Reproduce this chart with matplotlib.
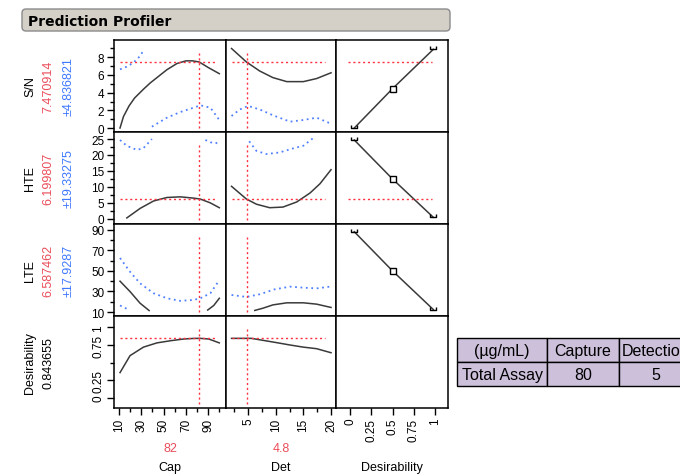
import numpy as np
import matplotlib
matplotlib.use('Agg')
import matplotlib.pyplot as plt
from matplotlib.patches import FancyBboxPatch, Rectangle
from matplotlib.path import Path

plt.rcParams['font.family'] = ['Liberation Sans', 'DejaVu Sans']

# ---- data read from the profiler ----
responses = ['S/N', 'HTE', 'LTE', 'Desirability']
pred_text = ['7.470914', '6.199807', '6.587462', '0.843655']
ci_text = ['±4.836821', '±19.33275', '±17.9287', '']
pred_vals = [7.470914, 6.199807, None, 0.843655]   # LTE line sits on the frame
cap_now, det_now = 82, 4.8

# S/N
cap_sn = [10.9, 14, 19, 24, 32, 38, 44, 53, 62, 70, 76, 82, 90, 100]
sn_cap = [0.0, 1.3, 2.5, 3.4, 4.4, 5.1, 5.7, 6.6, 7.3, 7.6, 7.6, 7.47, 6.85, 6.15]
cap_sn_hi = [10.9, 16.9, 22.9, 28.9, 32.5]
sn_cap_hi = [6.64, 6.94, 7.39, 8.15, 8.9]
cap_sn_lo = [39.5, 53, 65, 77, 83, 92, 100]
sn_cap_lo = [0.15, 1.17, 1.81, 2.3, 2.57, 2.3, 0.91]
det_sn = [2, 4.7, 7.1, 9.5, 12, 15, 17.4, 20]
sn_det = [9.0, 7.47, 6.45, 5.7, 5.25, 5.25, 5.6, 6.25]
det_sn_lo = [2, 3.5, 5, 7.1, 9.5, 12.6, 15, 17.4, 19.8]
sn_det_lo = [1.36, 2.1, 2.5, 2.1, 1.44, 0.72, 0.91, 1.17, 0.54]

# HTE
cap_hte = [17, 29, 41, 53, 65, 77, 83, 92, 100]
hte_cap = [0.3, 3.3, 5.6, 6.7, 6.9, 6.5, 6.2, 5.0, 3.5]
cap_hte_hi1 = [10.9, 16.9, 25.9, 31.8, 39.5]
hte_cap_hi1 = [24.7, 22.9, 21.6, 22.1, 25.0]
cap_hte_hi2 = [87.5, 92, 96.5, 100]
hte_cap_hi2 = [24.7, 24.0, 23.6, 24.2]
det_hte = [2, 4.7, 6.5, 8.9, 11.3, 13.8, 16.2, 18, 20]
hte_det = [10.2, 6.2, 4.6, 3.5, 3.7, 5.3, 8.1, 11.0, 15.4]
det_hte_hi = [5.2, 6.5, 8.3, 10.7, 13.2, 15, 16.7]
hte_det_hi = [24.3, 21.3, 20.3, 20.8, 22.1, 22.9, 25.2]

# LTE
cap_lte1 = [10.9, 19.9, 28.9, 37]
lte_cap1 = [40, 29.9, 18.6, 11.5]
cap_lte2 = [89.6, 95, 100]
lte_cap2 = [12.0, 16.4, 23.4]
cap_lte_hi = [10.9, 19.9, 28.9, 41, 53, 65, 77, 83, 92, 100]
lte_cap_hi = [62.5, 49.1, 37.9, 28.3, 23.4, 20.9, 21.8, 23.4, 28.3, 41]
cap_lte_lo = [10.9, 16.9]
lte_cap_lo = [16.4, 13.2]
det_lte = [6.2, 7.7, 9.5, 12, 15, 17.4, 20]
lte_det = [11.6, 13.8, 17, 19, 19, 17.7, 14.5]
det_lte_hi = [2, 4.7, 7.1, 9.8, 12.6, 15, 17.4, 19.8]
lte_det_hi = [26.6, 24.7, 27.3, 32.1, 34.7, 33.7, 33, 34.7]

# overall desirability
cap_d = [10.9, 19.9, 31.9, 44, 56, 68, 77, 83, 90.5, 100]
d_cap = [0.36, 0.60, 0.72, 0.78, 0.81, 0.835, 0.843, 0.844, 0.835, 0.78]
det_d = [2, 5.6, 7.7, 10.2, 12.6, 15, 17.4, 20]
d_det = [0.844, 0.844, 0.816, 0.783, 0.75, 0.72, 0.698, 0.641]

# desirability functions (x = desirability)
d_handles = [0.05, 0.5, 0.98]
sn_dfun = [0.0, 4.45, 8.9]
hte_dfun = [24.7, 12.5, 0.5]
lte_dfun = [88, 50, 12.5]

# table
tab_rows = [['(µg/mL)', 'Capture', 'Detection'],
            ['Total Assay', '80', '5']]

# ---- styles ----
W, H = 680, 477
BLACK = '#3a3a3a'
BLUE = '#4f80ff'
RED = '#ff3040'
RED_TXT = '#ea4d5a'
BLUE_TXT = '#3f78ff'

fig = plt.figure(figsize=(W/100, H/100), dpi=100)

over = fig.add_axes([0, 0, 1, 1])
over.set_xlim(0, W)
over.set_ylim(H, 0)
over.axis('off')

# title bar
over.add_patch(FancyBboxPatch((22, 10), 428, 22, boxstyle='round,pad=0,rounding_size=4',
                              fc='#d4d0c8', ec='#8a8a8a', lw=1))
over.text(28, 21.5, 'Prediction Profiler', fontsize=10, fontweight='bold',
          family='DejaVu Sans', va='center', ha='left')

col_l = [114, 226, 336]
col_w = [112, 110, 112]
row_t = [41, 133, 225, 317]
row_h = 92

xlims = [(5.5, 106), (1.0, 20.9), (-0.165, 1.153)]
ylims = [(-0.45, 9.96), (-1.6, 27.2), (6.2, 95.5), (-0.14, 1.16)]
xmaj = [[10, 30, 50, 70, 90], [5, 10, 15, 20], [0, 0.25, 0.5, 0.75, 1]]
xmin_t = [[20, 40, 60, 80, 100], [2.5, 7.5, 12.5, 17.5], []]
xlabs = [['10', '30', '50', '70', '90'], ['5', '10', '15', '20'], ['0', '0.25', '0.5', '0.75', '1']]
ymaj = [[0, 2, 4, 6, 8], [0, 5, 10, 15, 20, 25], [10, 30, 50, 70, 90], [0, 0.25, 0.75, 1]]
ymin_t = [[1, 3, 5, 7, 9], [2.5, 7.5, 12.5, 17.5, 22.5], [20, 40, 60, 80], [0.5]]
ylabs = [['0', '2', '4', '6', '8'], ['0', '5', '10', '15', '20', '25'],
         ['10', '30', '50', '70', '90'], ['0', '0.25', '0.75', '1']]
hspan = [(10.5, 98), (2, 19), (-0.02, 0.96)]

solid = dict(color=BLACK, lw=1.1)
dots = dict(color=BLUE, lw=1.3, ls=(0, (1, 2)))
red_dots = dict(color=RED, lw=1, ls=(0, (1.5, 2)))

curves = {
    (0, 0): [(cap_sn, sn_cap, solid), (cap_sn_hi, sn_cap_hi, dots), (cap_sn_lo, sn_cap_lo, dots)],
    (0, 1): [(det_sn, sn_det, solid), (det_sn_lo, sn_det_lo, dots)],
    (1, 0): [(cap_hte, hte_cap, solid), (cap_hte_hi1, hte_cap_hi1, dots), (cap_hte_hi2, hte_cap_hi2, dots)],
    (1, 1): [(det_hte, hte_det, solid), (det_hte_hi, hte_det_hi, dots)],
    (2, 0): [(cap_lte1, lte_cap1, solid), (cap_lte2, lte_cap2, solid),
             (cap_lte_hi, lte_cap_hi, dots), (cap_lte_lo, lte_cap_lo, dots)],
    (2, 1): [(det_lte, lte_det, solid), (det_lte_hi, lte_det_hi, dots)],
    (3, 0): [(cap_d, d_cap, solid)],
    (3, 1): [(det_d, d_det, solid)],
}
dfuns = {0: sn_dfun, 1: hte_dfun, 2: lte_dfun}

bracket = Path([(-1, 1), (-1, 0), (1, 0), (1, 1)],
               [Path.MOVETO, Path.LINETO, Path.LINETO, Path.LINETO])

for r in range(4):
    for c in range(3):
        ax = fig.add_axes([col_l[c]/W, 1 - (row_t[r] + row_h)/H, col_w[c]/W, row_h/H])
        ax.set_xlim(*xlims[c])
        ax.set_ylim(*ylims[r])
        for s in ax.spines.values():
            s.set_linewidth(1.1)
            s.set_color('black')
        ax.set_xticks(xmaj[c])
        ax.set_xticks(xmin_t[c], minor=True)
        ax.set_yticks(ymaj[r])
        ax.set_yticks(ymin_t[r], minor=True)
        ax.tick_params(which='major', direction='out', length=5, width=1, pad=2)
        ax.tick_params(which='minor', direction='out', length=3, width=1)
        if r == 3:
            ax.set_xticklabels(xlabs[c], rotation=90, fontsize=8.5)
        else:
            ax.tick_params(axis='x', which='both', bottom=False, labelbottom=False)
        if c == 0:
            if r == 3:
                ax.set_yticklabels(ylabs[r], rotation=90, fontsize=8.5, va='center')
            else:
                ax.set_yticklabels(ylabs[r], fontsize=8.5)
        else:
            ax.tick_params(axis='y', which='both', left=False, labelleft=False)

        for xs, ys, st in curves.get((r, c), []):
            ax.plot(xs, ys, **st)
        if c == 2 and r in dfuns:
            ax.plot(d_handles, dfuns[r], color=BLACK, lw=1.1)
            ax.plot([d_handles[0], d_handles[2]], [dfuns[r][0], dfuns[r][2]], ls='none',
                    marker=bracket, ms=4, mfc='none', mec='black', mew=1)
            ax.plot([d_handles[1]], [dfuns[r][1]], ls='none', marker='s', ms=4,
                    mfc='white', mec='black', mew=1)
        if pred_vals[r] is not None and not (r == 3 and c == 2):
            ax.hlines(pred_vals[r], hspan[c][0], hspan[c][1], **red_dots)
        if c == 0:
            ax.axvline(cap_now, ymin=0.04, ymax=0.88, **red_dots)
        elif c == 1:
            ax.axvline(det_now, ymin=0.04, ymax=0.88, **red_dots)

    yc = row_t[r] + row_h/2
    over.text(30, yc, responses[r], rotation=90, fontsize=9, ha='center', va='center')
    over.text(48, yc, pred_text[r], rotation=90, fontsize=9, ha='center', va='center',
              color=RED_TXT if r < 3 else 'black')
    if ci_text[r]:
        over.text(69, yc, ci_text[r], rotation=90, fontsize=9, ha='center', va='center',
                  color=BLUE_TXT)

# bottom labels
over.text(170, 449, str(cap_now), fontsize=9, color=RED_TXT, ha='center', va='center')
over.text(281, 449, str(det_now), fontsize=9, color=RED_TXT, ha='center', va='center')
for x, name in zip([170, 281, 392], ['Cap', 'Det', 'Desirability']):
    over.text(x, 468, name, fontsize=9, ha='center', va='center')

# table (right edge runs off the figure, as in the original)
col_edges = [457, 547, 619, 693]
row_edges = [339, 363, 387]
for i, row in enumerate(tab_rows):
    for j, txt in enumerate(row):
        x0, x1 = col_edges[j], col_edges[j + 1]
        y0, y1 = row_edges[i], row_edges[i + 1]
        over.add_patch(Rectangle((x0, y0), x1 - x0, y1 - y0, fc='#ccc0da', ec='black', lw=1))
        over.text((x0 + x1)/2, (y0 + y1)/2 + 1, txt, fontsize=11.5, ha='center', va='center')

fig.savefig('out.png', dpi=100)
